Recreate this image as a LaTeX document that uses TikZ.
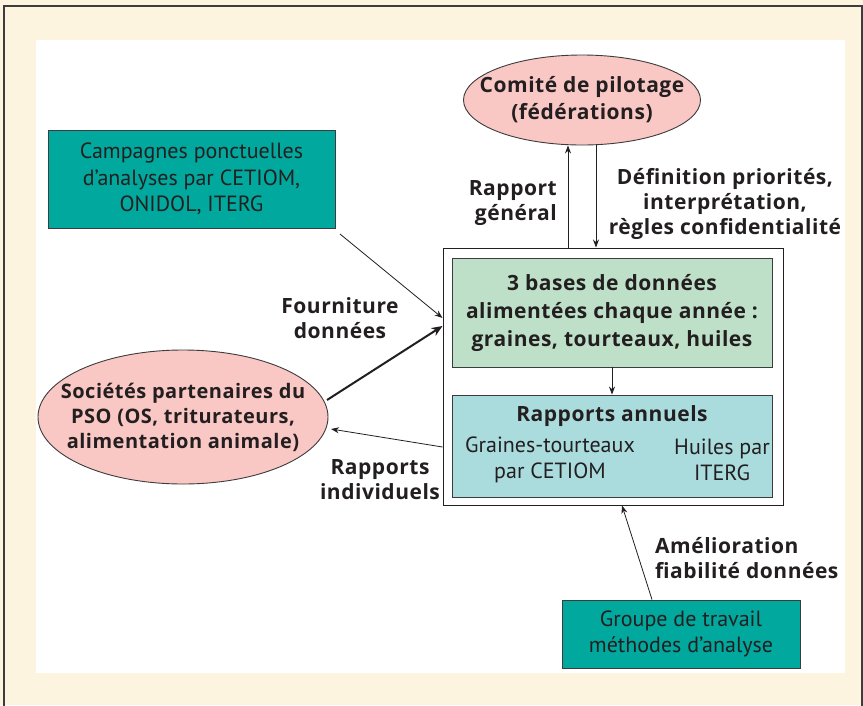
\documentclass[tikz,border=0pt]{standalone}
\usepackage{fontspec}
\setmainfont{PT Sans}
\newfontfamily\heavyfam{Open Sans}[LetterSpace=2.5]
\usetikzlibrary{shapes.geometric,arrows.meta,calc}
\definecolor{cream}{RGB}{252,244,223}
\definecolor{tealbox}{RGB}{0,168,158}
\definecolor{pinkel}{RGB}{249,199,196}
\definecolor{greenbox}{RGB}{190,224,200}
\definecolor{cyanbox}{RGB}{170,220,222}
\definecolor{ink}{RGB}{35,31,32}
\definecolor{edge}{RGB}{60,60,60}
\tikzset{
  every node/.style={text=ink},
  reg/.style={font=\fontsize{22}{26.5}\selectfont},
  bld/.style={font=\heavyfam\fontsize{21}{25}\selectfont\bfseries},
  tealrect/.style={draw=edge,line width=0.9pt,fill=tealbox,align=center,reg,inner sep=0pt},
  pinkell/.style={ellipse,draw=edge,line width=0.9pt,fill=pinkel,inner sep=0pt},
  inbox/.style={draw=edge,line width=0.9pt,inner sep=0pt},
  lbl/.style={bld,inner sep=0pt},
  arr/.style={draw=ink,line width=0.8pt,-{Stealth[length=8pt,width=6pt]}},
  bigarr/.style={draw=ink,line width=2pt,-{Stealth[length=11pt,width=9pt]}}
}
\begin{document}
\begin{tikzpicture}[x=1pt,y=-1pt]
\useasboundingbox (0,0) rectangle (863,705);
% background
\fill[cream] (0,0) rectangle (863,705);
\draw[edge,line width=1.2pt] (4,706) -- (4,6) -- (862,6) -- (862,706);
\fill[white] (36,40) rectangle (845,673);
% nodes
\node[pinkell,minimum width=237,minimum height=90] (comite) at (582,100) {};
\node[lbl,align=center,font=\heavyfam\fontsize{21}{27}\selectfont\bfseries] (comitetxt) at (comite) {Comité de pilotage\\(fédérations)};
\node[tealrect,minimum width=287,minimum height=98] (campagnes) at (191.5,179)
  {Campagnes ponctuelles\\d’analyses par CETIOM,\\ONIDOL, ITERG};
\node[pinkell,minimum width=290,minimum height=134] (societes) at (183,417) {};
\node[lbl,align=center,font=\heavyfam\fontsize{20}{25}\selectfont\bfseries] (societestxt) at (societes)
  {Sociétés partenaires du\\PSO (OS, triturateurs,\\alimentation animale)};
\node[draw=ink,line width=1pt,fill=white,minimum width=340,minimum height=257,inner sep=0pt] (frame) at (613,376.5) {};
\node[inbox,fill=greenbox,minimum width=320,minimum height=109,align=center,font=\heavyfam\fontsize{21}{28}\selectfont\bfseries] (bases) at (612,312.5)
  {3 bases de données\\alimentées chaque année :\\graines, tourteaux, huiles};
\node[inbox,fill=cyanbox,minimum width=320,minimum height=102] (annuels) at (612,446) {};
\node[bld,inner sep=0pt] (titre) at (612,416) {Rapports annuels};
\node[reg,align=center,inner sep=0pt] (graines) at (550,460) {Graines-tourteaux\\par CETIOM};
\node[reg,align=center,inner sep=0pt] (huiles) at (722,460) {Huiles par\\ITERG};
\node[tealrect,minimum width=238,minimum height=68] (groupe) at (681,634)
  {Groupe de travail\\méthodes d’analyse};
% labels
\node[lbl,align=right,anchor=east] (rg) at (557,203) {Rapport\\général};
\node[lbl,align=center] (def) at (725,204) {Définition priorités,\\interprétation,\\règles confidentialité};
\node[lbl,align=center] (four) at (340,318) {Fourniture\\données};
\node[lbl,align=center] (ri) at (380,480) {Rapports\\individuels};
\node[lbl,align=left,anchor=west] (amel) at (655,558) {Amélioration\\fiabilité données};
% connectors
\draw[arr] (frame.north -| 568,0) -- (comite.south -| 568,0);
\draw[arr] (comite.south -| 596,0) -- (frame.north -| 596,0);
\draw[arr] (340,234) -- (frame.west |- 0,318);
\draw[bigarr] (327,400) -- (frame.west |- 0,326);
\draw[arr] (frame.west |- 0,447) -- (331,429);
\draw[arr] (bases.south) -- (annuels.north);
\draw[arr] (groupe.north -| 652,0) -- (frame.south -| 622,0);
\end{tikzpicture}
\end{document}
